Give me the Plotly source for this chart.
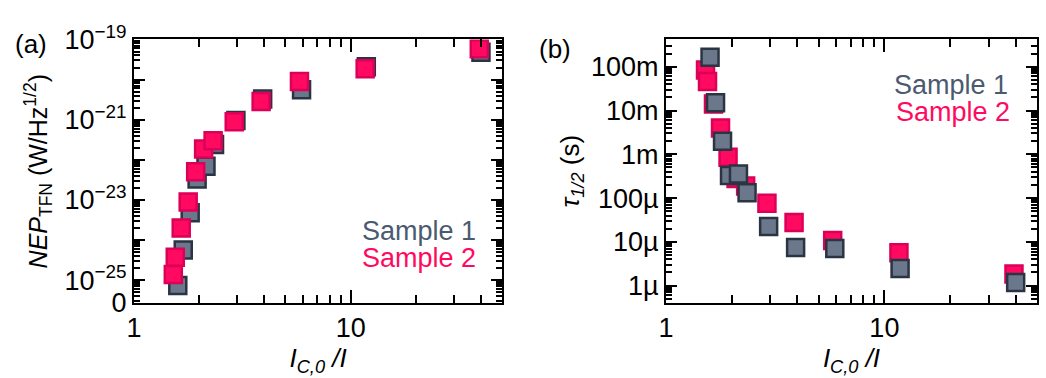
import plotly.graph_objects as go
import numpy as np

# ---------------- data ----------------
x_s1 = [1.592, 1.687, 1.816, 1.955, 2.148, 2.352, 2.952, 3.923, 5.93, 11.8, 39.9]
x_s2 = [1.518, 1.550, 1.651, 1.778, 1.925, 2.095, 2.317, 2.90, 3.86, 5.80, 11.66, 39.2]

nep_s1 = [7.3e-26, 5.6e-25, 4.8e-24, 3.3e-23, 6.9e-23, 2.4e-22, 9.5e-22, 3.3e-21, 5.6e-21, 2.1e-20, 4.8e-20]
nep_s2 = [1.38e-25, 3.7e-25, 2.0e-24, 8.9e-24, 5.0e-23, 1.87e-22, 3.0e-22, 8.9e-22, 2.85e-21, 9.0e-21, 1.87e-20, 5.9e-20]

tau_s1 = [0.164, 0.0150, 1.99e-3, 3.29e-4, 3.56e-4, 1.32e-4, 2.26e-5, 7.4e-6, 7.1e-6, 2.48e-6, 1.19e-6]
tau_s2 = [0.0838, 0.0459, 0.0141, 4.01e-3, 8.55e-4, 2.8e-4, 1.89e-4, 7.6e-5, 2.79e-5, 1.07e-5, 5.66e-6, 1.86e-6]

nep_tick_exp = [-25, -24, -23, -22, -21, -20, -19]
tau_tick_vals = [1e-6, 1e-5, 1e-4, 1e-3, 1e-2, 1e-1]
tau_tick_text = ["1µ", "10µ", "100µ", "1m", "10m", "100m"]

# ---------------- style ----------------
FONT = "Liberation Sans, Arial, sans-serif"
FS = 27
C1_FILL, C1_LINE, C1_TEXT = "#6b788b", "#2a3443", "#4b5a70"
C2_FILL, C2_LINE, C2_TEXT = "#ff0a60", "#dc0058", "#ff0a60"

W, H = 1046, 378
def px_x(a, b):
    return [a / W, b / W]
ydom = [1 - 312 / H, 1 - 22.5 / H]

def minor_log(lo, hi):
    vals = []
    for e in range(int(np.floor(lo)) - 1, int(np.ceil(hi)) + 1):
        for k in range(2, 10):
            v = k * 10.0 ** e
            if lo < np.log10(v) < hi:
                vals.append(v)
    return vals

fig = go.Figure()

def add(x, y, fill, line, xa, ya, name):
    fig.add_trace(go.Scatter(
        x=x, y=y, mode="markers", name=name, xaxis=xa, yaxis=ya, showlegend=False,
        marker=dict(symbol="square", size=17, color=fill, line=dict(color=line, width=2.5))))

# panel (a): pink on top
add(x_s1, nep_s1, C1_FILL, C1_LINE, "x", "y", "Sample 1")
add(x_s2, nep_s2, C2_FILL, C2_LINE, "x", "y", "Sample 2")
# panel (b): gray on top
add(x_s2, tau_s2, C2_FILL, C2_LINE, "x2", "y2", "Sample 2")
add(x_s1, tau_s1, C1_FILL, C1_LINE, "x2", "y2", "Sample 1")

xr = [0, np.log10(50)]
xmin = minor_log(xr[0], xr[1])

common_ax = dict(showline=True, linecolor="black", linewidth=2, mirror="ticks",
                 ticks="inside", tickcolor="black", tickwidth=2, showgrid=False,
                 zeroline=False, tickfont=dict(family=FONT, size=FS, color="black"))

xtitle = dict(text="<i>I</i><sub><i>C,0</i></sub><i> /I</i>",
              font=dict(family=FONT, size=26, color="black"), standoff=4)

nep_lo, nep_hi = -25.57, -19.0
nep_vals = [10.0 ** e for e in nep_tick_exp] + [10.0 ** (nep_lo + 0.01)]
nep_text = [("10<sup>−%d</sup>" % -e) if e % 2 else "" for e in nep_tick_exp] + ["0"]

tau_lo, tau_hi = -6.394, -0.378

fig.update_layout(
    width=W, height=H, margin=dict(l=0, r=0, t=0, b=0),
    paper_bgcolor="white", plot_bgcolor="white",
    font=dict(family=FONT, size=FS, color="black"),
    xaxis=dict(common_ax, type="log", range=xr, domain=px_x(127, 498), anchor="y",
               tickmode="linear", tick0=0, dtick=1, ticklen=13,
               minor=dict(tickmode="array", tickvals=xmin, ticks="inside", ticklen=8,
                          tickwidth=2, tickcolor="black"),
               title=xtitle),
    yaxis=dict(common_ax, type="log", range=[nep_lo, nep_hi], domain=ydom, anchor="x",
               tickmode="array", tickvals=nep_vals, ticktext=nep_text, ticklen=11,
               minor=dict(tickmode="array", tickvals=minor_log(nep_lo, nep_hi), ticks="inside",
                          ticklen=6, tickwidth=1.5, tickcolor="black"),
               title=dict(text="<i>NEP</i><sub>TFN</sub> (W/Hz<sup>1/2</sup>)",
                          font=dict(family=FONT, size=25, color="black"), standoff=10)),
    xaxis2=dict(common_ax, type="log", range=xr, domain=px_x(663, 1037), anchor="y2",
                tickmode="linear", tick0=0, dtick=1, ticklen=13,
                minor=dict(tickmode="array", tickvals=xmin, ticks="inside", ticklen=8,
                           tickwidth=2, tickcolor="black"),
                title=xtitle),
    yaxis2=dict(common_ax, type="log", range=[tau_lo, tau_hi], domain=ydom, anchor="x2",
                tickmode="array", tickvals=tau_tick_vals, ticktext=tau_tick_text, ticklen=11,
                minor=dict(tickmode="array", tickvals=minor_log(tau_lo, tau_hi), ticks="inside",
                           ticklen=6, tickwidth=1.5, tickcolor="black"),
                title=dict(text="<i>τ</i><sub><i>1/2</i></sub> (s)",
                           font=dict(family=FONT, size=26, color="black"), standoff=4)),
)

ann = [
    dict(text="(a)", x=5 / W, y=1 - 28 / H, xanchor="left", yanchor="middle"),
    dict(text="(b)", x=533 / W, y=1 - 33 / H, xanchor="left", yanchor="middle"),
    dict(text="Sample 1", x=474 / W, y=1 - 233 / H, xanchor="right", yanchor="middle",
         color=C1_TEXT),
    dict(text="Sample 2", x=474 / W, y=1 - 263 / H, xanchor="right", yanchor="middle",
         color=C2_TEXT),
    dict(text="Sample 1", x=1010 / W, y=1 - 72 / H, xanchor="right", yanchor="middle",
         color=C1_TEXT),
    dict(text="Sample 2", x=1012 / W, y=1 - 102 / H, xanchor="right", yanchor="middle",
         color=C2_TEXT),
]
for a in ann:
    col = a.pop("color", "black")
    fig.add_annotation(xref="paper", yref="paper", showarrow=False,
                       font=dict(family=FONT, size=26 if col == "black" else 27, color=col), **a)

fig.write_html("out.html")
